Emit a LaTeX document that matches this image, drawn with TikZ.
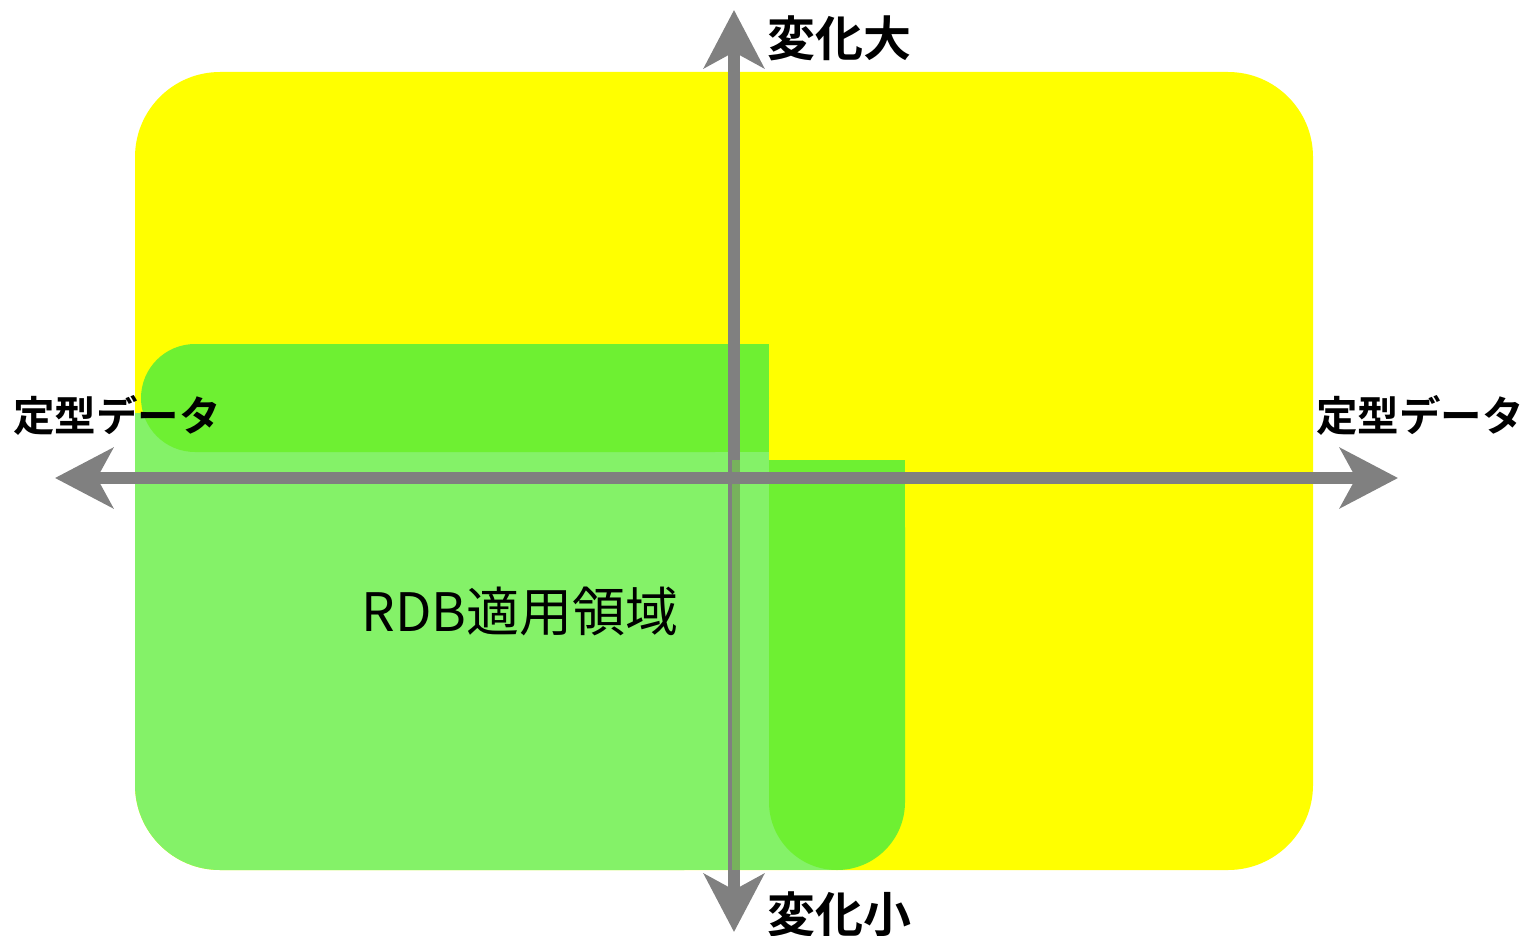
\documentclass[tikz,border=0pt]{standalone}
\usepackage{fontspec}
\newfontfamily\cjk{Noto Sans CJK JP}
\newfontfamily\cjkb{Noto Sans CJK JP Bold}
\usetikzlibrary{arrows.meta}
\definecolor{ylw}{RGB}{255,255,0}
\definecolor{grA}{RGB}{110,240,50}
\definecolor{grB}{RGB}{132,242,104}
\definecolor{axisgray}{RGB}{128,128,128}
\tikzset{
  axisline/.style={draw=axisgray, line width=12pt,
    {Stealth[length=58pt,width=60pt,inset=16pt]}-{Stealth[length=58pt,width=60pt,inset=16pt]}},
  biglabel/.style={inner sep=0pt, anchor=west, font=\cjkb\fontsize{48}{48}\selectfont},
  sidelabel/.style={inner sep=0pt, anchor=west, font=\cjkb\fontsize{41.5}{42}\selectfont},
  rdblabel/.style={inner sep=0pt, font=\cjk\fontsize{53}{53}\selectfont}
}
\begin{document}
\begin{tikzpicture}[x=1pt,y=-1pt]
\useasboundingbox (0,0) rectangle (1525,936);
% yellow area
\fill[ylw, rounded corners=85pt] (135,72) rectangle (1313,870);
% light green area (B)
\fill[grB, rounded corners=85pt] (135,413) rectangle (769,870);
\fill[grB] (135,413) rectangle (769,700);
\fill[grB] (300,460) rectangle (769,870);
\fill[grB] (769,460) rectangle (840,870);
% yellow-green top band (A)
\fill[grA, rounded corners=54pt] (141,344) rectangle (769,452);
\fill[grA] (400,344) rectangle (769,452);
% yellow-green right block (C)
\fill[grA, rounded corners=68pt] (769,460) rectangle (905,870);
\fill[grA] (769,460) rectangle (905,700);
% axes
\coordinate (T) at (734,10);
\coordinate (Bt) at (734,932);
\coordinate (L) at (55,478);
\coordinate (R) at (1398,478);
\draw[axisline] (Bt) -- (T);
\fill[grA, opacity=0.45] (732,460) rectangle (740,870);
\draw[axisline] (L) -- (R);
% labels
\node[biglabel] (big) at (767,38) {変化大};
\node[biglabel] (small) at (767,914) {変化小};
\node[sidelabel] (left) at (13,415) {定型データ};
\node[sidelabel] (right) at (1316,415) {定型データ};
\node[rdblabel] (rdb) at (520,611) {RDB適用領域};
\end{tikzpicture}
\end{document}
